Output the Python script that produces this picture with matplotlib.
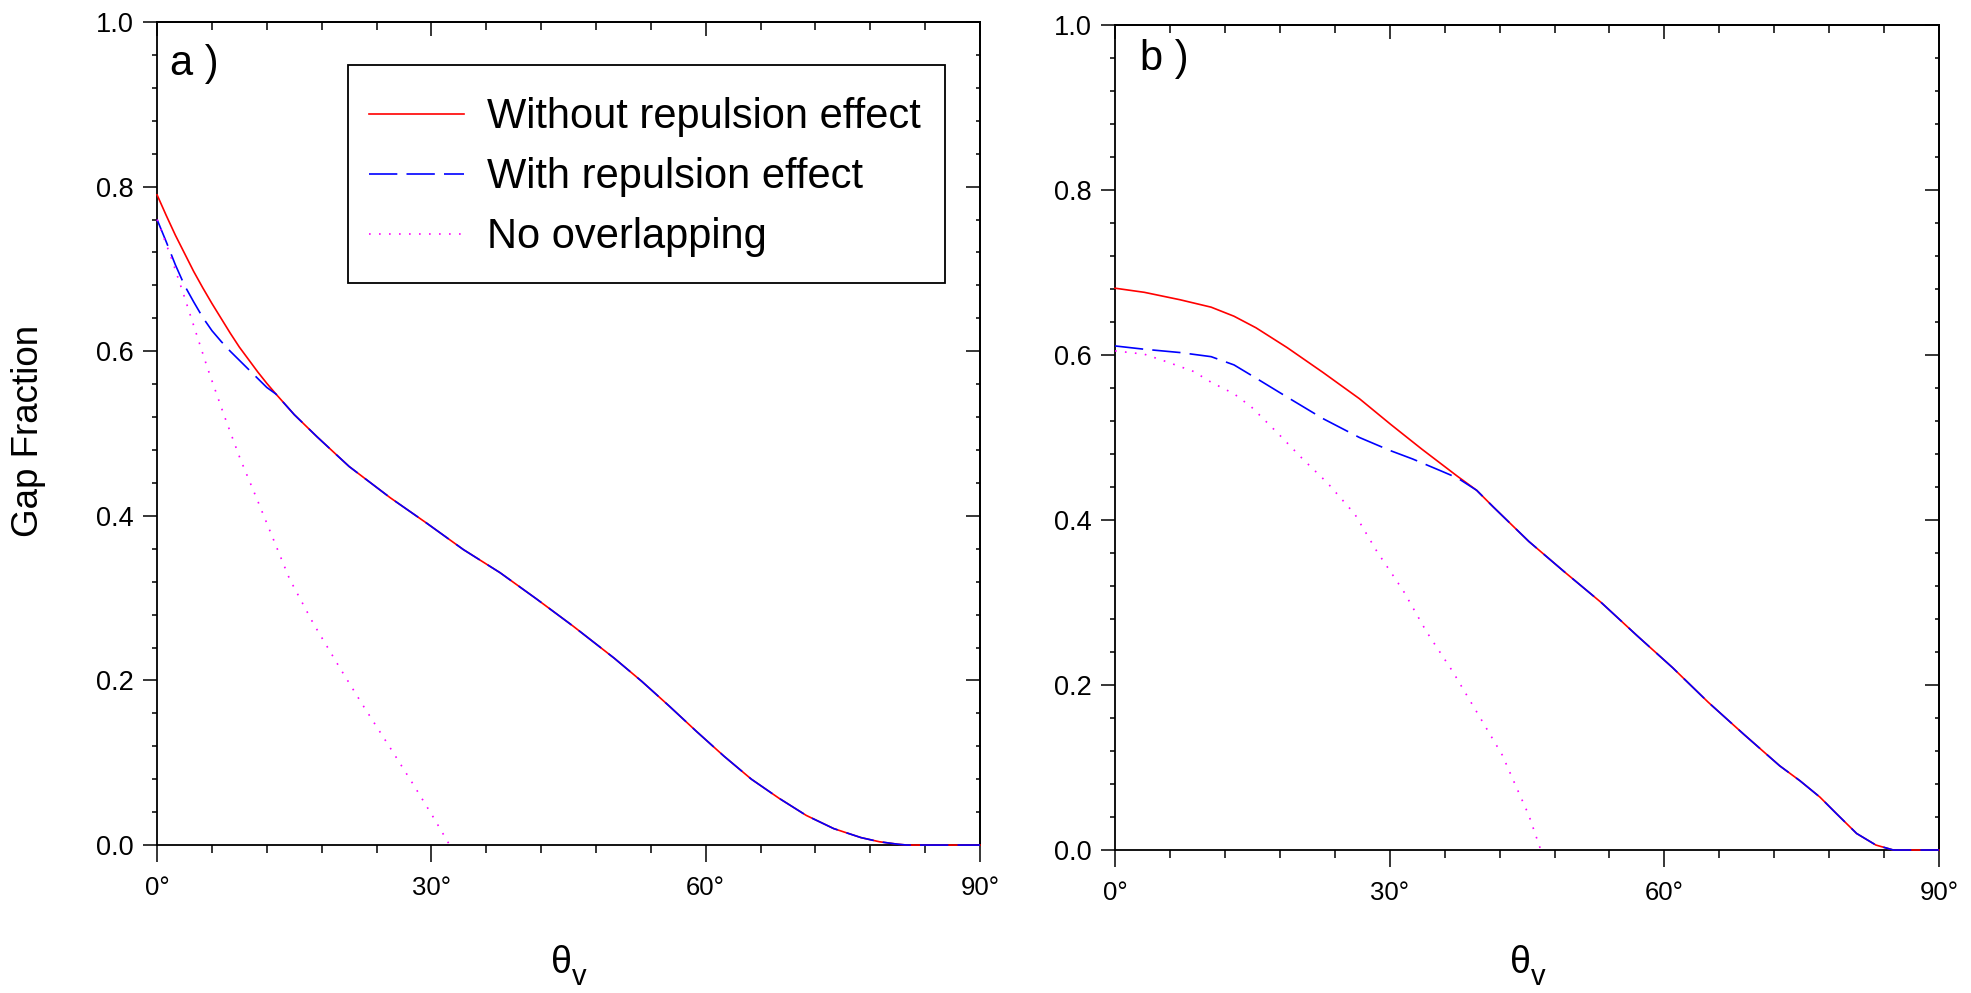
import matplotlib.pyplot as plt
from matplotlib.patches import Rectangle
from matplotlib.ticker import MultipleLocator, FixedLocator, FixedFormatter, FormatStrFormatter

plt.rcParams['font.family'] = ['Liberation Sans', 'DejaVu Sans']

labels = ['Without repulsion effect', 'With repulsion effect', 'No overlapping']
xtick_labels = ['0°', '30°', '60°', '90°']

# panel a) -- curves split before they join, shared tail after
a_head_theta = [0, 1, 2, 3, 4, 5, 6, 7, 8, 9, 10, 11, 12, 13]
a_head_red = [0.790, 0.765, 0.741, 0.719, 0.697, 0.677, 0.658, 0.640, 0.622, 0.605, 0.590, 0.575, 0.561, 0.548]
a_head_blue = [0.760, 0.733, 0.705, 0.680, 0.660, 0.641, 0.625, 0.612, 0.600, 0.589, 0.578, 0.567, 0.556, 0.548]
a_tail_theta = [15, 17.5, 21, 25.5, 29.5, 33.5, 37.5, 41.5, 45.5, 50, 53, 56, 59, 62, 65, 68, 71, 74, 77, 79, 81, 82, 90]
a_tail = [0.523, 0.496, 0.460, 0.422, 0.391, 0.359, 0.331, 0.299, 0.266, 0.227, 0.199, 0.169, 0.138, 0.108,
          0.080, 0.057, 0.036, 0.020, 0.009, 0.004, 0.001, 0.0, 0.0]
a_mag_theta = [0, 1.6, 2.9, 3.6, 5.5, 7.3, 9.1, 10.9, 12.7, 14.5, 17.1, 20, 22.5, 25.5, 28, 30.2, 32]
a_mag = [0.760, 0.712, 0.669, 0.645, 0.580, 0.523, 0.469, 0.421, 0.372, 0.323, 0.269, 0.215, 0.170, 0.118,
         0.074, 0.034, 0.0]

# panel b)
b_red_theta = [0, 3.2, 7.1, 10.5, 13, 15.4, 18.8, 22.7, 26.7, 30.1, 33.5, 37.4]
b_red = [0.681, 0.676, 0.667, 0.658, 0.647, 0.633, 0.609, 0.579, 0.547, 0.516, 0.486, 0.453]
b_blue_theta = [0, 3.2, 7.1, 10.5, 13, 15.4, 18.8, 22.7, 26.7, 30.1, 32.5, 35.5, 37.4]
b_blue = [0.611, 0.607, 0.603, 0.598, 0.588, 0.572, 0.549, 0.523, 0.500, 0.484, 0.474, 0.460, 0.451]
b_tail_theta = [39.5, 41.3, 45.2, 49.1, 53.1, 57, 60.9, 64.8, 68.7, 72.6, 74.8, 77, 78.8, 81, 83.1, 85, 90]
b_tail = [0.436, 0.416, 0.374, 0.337, 0.300, 0.260, 0.221, 0.179, 0.140, 0.102, 0.084, 0.064, 0.044, 0.020,
          0.006, 0.0, 0.0]
b_mag_theta = [0, 3.2, 5.6, 8.6, 10.5, 13, 14.9, 17.8, 20.5, 23.2, 26.2, 28.6, 31.5, 34, 36.9, 39.9, 42.3,
               43.8, 45.2, 46.5]
b_mag = [0.605, 0.601, 0.592, 0.580, 0.567, 0.553, 0.537, 0.505, 0.474, 0.445, 0.407, 0.362, 0.314, 0.265,
         0.216, 0.160, 0.115, 0.077, 0.042, 0.0]


def style_axes(ax):
    ax.set_xlim(0, 90)
    ax.set_ylim(0, 1)
    for s in ax.spines.values():
        s.set_linewidth(1.3)
    ax.xaxis.set_major_locator(FixedLocator([0, 30, 60, 90]))
    ax.xaxis.set_major_formatter(FixedFormatter(xtick_labels))
    ax.xaxis.set_minor_locator(MultipleLocator(6))
    ax.yaxis.set_major_locator(MultipleLocator(0.2))
    ax.yaxis.set_minor_locator(MultipleLocator(0.04))
    ax.yaxis.set_major_formatter(FormatStrFormatter('%.1f'))
    ax.tick_params(axis='x', which='major', direction='out', length=12, width=1.1, pad=10)
    ax.tick_params(axis='x', which='minor', direction='out', length=6, width=1.1)
    ax.tick_params(axis='y', which='major', direction='out', length=10, width=1.1, pad=7, labelsize=19.5)
    ax.tick_params(axis='y', which='minor', direction='out', length=3.5, width=1.1)
    for lab in ax.get_xticklabels():
        lab.set_fontfamily(['Liberation Sans Narrow', 'Liberation Sans'])
        lab.set_fontsize(18.5)

    top = ax.secondary_xaxis('top')
    top.xaxis.set_major_locator(FixedLocator([0, 30, 60, 90]))
    top.xaxis.set_minor_locator(MultipleLocator(6))
    top.tick_params(which='major', direction='in', length=10, width=1.1, labeltop=False)
    top.tick_params(which='minor', direction='in', length=6, width=1.1)
    top.spines['top'].set_linewidth(1.3)

    right = ax.secondary_yaxis('right')
    right.yaxis.set_major_locator(MultipleLocator(0.2))
    right.yaxis.set_minor_locator(MultipleLocator(0.04))
    right.tick_params(which='major', direction='in', length=10, width=1.1, labelright=False)
    right.tick_params(which='minor', direction='in', length=3, width=1.1)
    right.spines['right'].set_linewidth(1.3)


def draw(ax, red_t, red_v, blue_t, blue_v, mag_t, mag_v):
    r, = ax.plot(red_t, red_v, color='#ff0000', lw=1.2, zorder=3, clip_on=False)
    b, = ax.plot(blue_t, blue_v, color='#0000ff', lw=1.2, dashes=(17, 5.5), zorder=4, clip_on=False)
    m, = ax.plot(mag_t, mag_v, color='#ff00ff', lw=1.2, dashes=(1, 5), zorder=5, clip_on=False)
    return r, b, m


fig = plt.figure(figsize=(19.71, 9.93), dpi=100)
ax1 = fig.add_axes([0.0797, 0.1490, 0.4175, 0.8288])
ax2 = fig.add_axes([0.5657, 0.1440, 0.4181, 0.8308])

handles = draw(ax1, a_head_theta + a_tail_theta, a_head_red + a_tail,
               a_head_theta + a_tail_theta, a_head_blue + a_tail, a_mag_theta, a_mag)
draw(ax2, b_red_theta + b_tail_theta, b_red + b_tail,
     b_blue_theta + b_tail_theta, b_blue + b_tail, b_mag_theta, b_mag)

for ax in (ax1, ax2):
    style_axes(ax)

ax1.text(0.016, 0.936, 'a )', transform=ax1.transAxes, fontsize=30, ha='left', va='baseline')
ax2.text(0.030, 0.945, 'b )', transform=ax2.transAxes, fontsize=30, ha='left', va='baseline')

# legend without its own frame, box drawn separately so it can be taller
ax1.legend(handles, labels, loc='upper left', bbox_to_anchor=(0.232, 0.934), borderaxespad=0,
           fontsize=30, handlelength=2.28, handletextpad=0.55, labelspacing=0.48,
           borderpad=0.5, frameon=False)
ax1.add_patch(Rectangle((0.232, 0.683), 0.7255, 0.265, transform=ax1.transAxes, fill=False,
                        edgecolor='black', lw=1.3, zorder=6))

fig.text(0.0147, 0.566, 'Gap Fraction', rotation=90, fontsize=26.5, ha='center', va='center')
for xc in (0.2902, 0.7768):
    fig.text(xc, 0.0201, 'θ', fontsize=27, ha='right', va='baseline')
    fig.text(xc, 0.008, 'v', fontsize=21, ha='left', va='baseline')

fig.savefig('out.png', dpi=100, facecolor='white')
